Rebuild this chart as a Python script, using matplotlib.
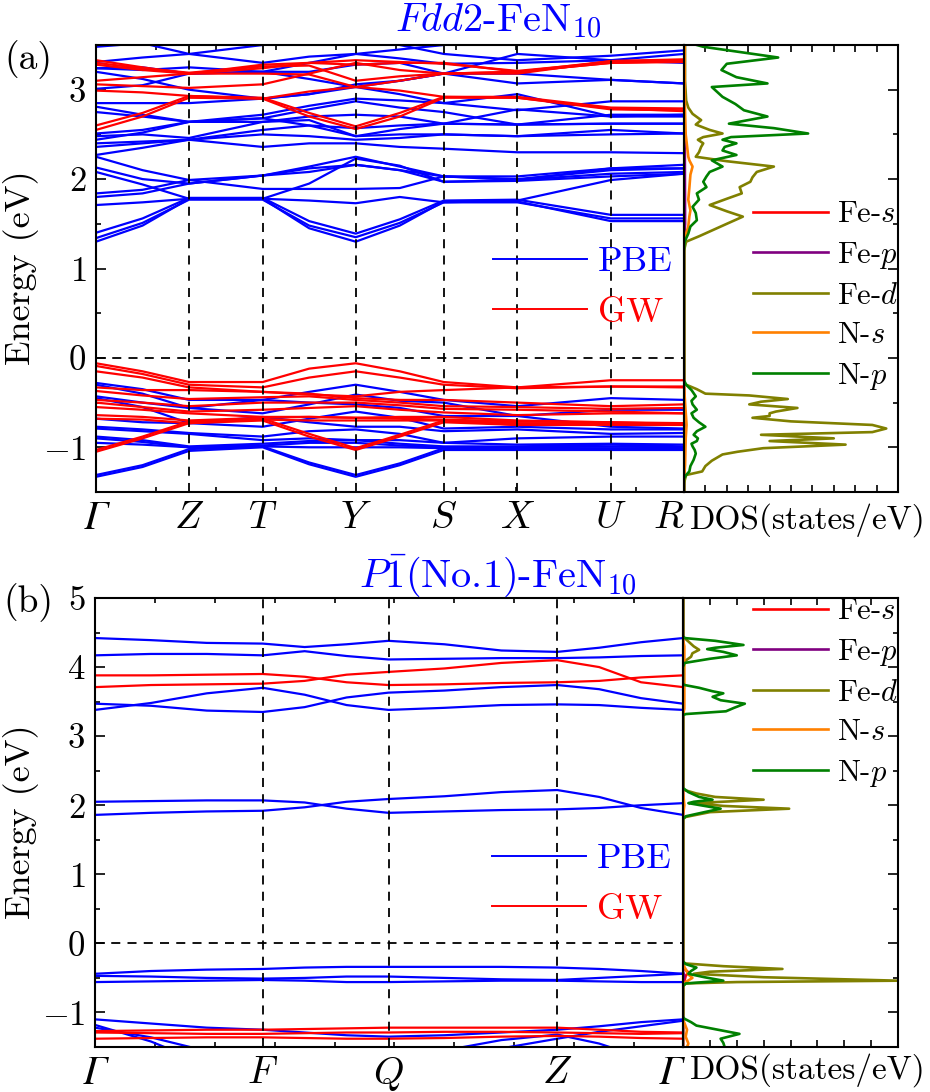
import matplotlib
matplotlib.use('Agg')
import matplotlib.pyplot as plt
from matplotlib.lines import Line2D
from matplotlib.ticker import MultipleLocator

plt.rcParams['font.family'] = 'cmr10'
plt.rcParams['mathtext.fontset'] = 'cm'
plt.rcParams['axes.formatter.use_mathtext'] = True

# ---------------- (a) Fdd2-FeN10 ----------------
kticks_a = [0.0, 0.93, 1.665, 2.595, 3.475, 4.21, 5.145, 5.875]
klabels_a = ['Γ', r'$Z$', r'$T$', r'$Y$', r'$S$', r'$X$', r'$U$', r'$R$']
# k samples: G, G-Z, Z, T, T-Y, Y, Y-S, S, X, U, R
kpts_a = [0.0, 0.465, 0.93, 1.665, 2.13, 2.595, 3.035, 3.475, 4.21, 5.145, 5.875]

pbe_cond_a = [
    [1.30, 1.48, 1.78, 1.78, 1.45, 1.30, 1.48, 1.75, 1.75, 1.53, 1.53],
    [1.34, 1.51, 1.77, 1.77, 1.48, 1.35, 1.51, 1.74, 1.74, 1.56, 1.56],
    [1.40, 1.56, 1.79, 1.79, 1.53, 1.39, 1.55, 1.76, 1.77, 1.60, 1.60],
    [1.71, 1.74, 1.78, 1.78, 1.76, 1.73, 1.80, 1.74, 1.76, 1.99, 2.06],
    [1.80, 1.84, 1.95, 2.04, 2.12, 2.16, 2.10, 1.97, 1.99, 2.06, 2.08],
    [1.84, 1.88, 1.99, 1.89, 1.89, 1.89, 1.90, 2.03, 1.99, 2.12, 2.16],
    [2.08, 1.94, 1.78, 1.78, 1.95, 2.23, 2.15, 1.97, 1.98, 2.03, 2.06],
    [2.13, 2.00, 1.95, 2.04, 2.14, 2.25, 2.14, 2.03, 2.03, 2.12, 2.12],
    [2.25, 2.10, 1.99, 2.04, 2.08, 2.16, 2.10, 2.03, 2.00, 2.10, 2.12],
    [2.27, 2.35, 2.44, 2.36, 2.40, 2.40, 2.36, 2.34, 2.30, 2.30, 2.29],
    [2.36, 2.40, 2.44, 2.55, 2.60, 2.48, 2.50, 2.50, 2.48, 2.55, 2.51],
    [2.40, 2.42, 2.44, 2.50, 2.48, 2.44, 2.46, 2.50, 2.48, 2.50, 2.51],
    [2.44, 2.52, 2.64, 2.68, 2.60, 2.57, 2.60, 2.62, 2.61, 2.62, 2.62],
    [2.48, 2.50, 2.46, 2.64, 2.70, 2.72, 2.70, 2.62, 2.61, 2.62, 2.62],
    [2.51, 2.55, 2.64, 2.64, 2.66, 2.48, 2.56, 2.62, 2.78, 2.70, 2.72],
    [2.81, 2.72, 2.64, 2.68, 2.78, 2.87, 2.80, 2.75, 2.61, 2.72, 2.72],
    [2.85, 2.85, 2.85, 2.90, 2.95, 3.03, 2.95, 2.85, 2.77, 2.87, 2.87],
    [2.75, 2.70, 2.64, 2.72, 2.82, 2.90, 2.88, 2.85, 2.95, 2.70, 2.70],
    [3.01, 3.05, 3.18, 3.20, 3.12, 3.03, 3.10, 3.18, 3.07, 3.11, 3.07],
    [3.20, 3.12, 3.00, 2.90, 2.95, 3.06, 3.10, 3.18, 3.18, 3.11, 3.07],
    [3.24, 3.25, 3.18, 3.20, 3.30, 3.40, 3.35, 3.29, 3.30, 3.33, 3.40],
    [3.31, 3.36, 3.40, 3.50, 3.60, 3.60, 3.50, 3.40, 3.33, 3.38, 3.44],
    [3.48, 3.52, 3.40, 3.30, 3.37, 3.40, 3.45, 3.50, 3.60, 3.60, 3.60],
    [3.24, 3.22, 3.25, 3.20, 3.20, 3.28, 3.30, 3.18, 3.40, 3.33, 3.30],
]
pbe_val_a = [
    [-0.28, -0.35, -0.47, -0.47, -0.38, -0.30, -0.38, -0.47, -0.54, -0.45, -0.47],
    [-0.30, -0.40, -0.56, -0.62, -0.52, -0.41, -0.48, -0.50, -0.65, -0.58, -0.58],
    [-0.43, -0.50, -0.56, -0.47, -0.50, -0.52, -0.56, -0.65, -0.65, -0.77, -0.79],
    [-0.45, -0.55, -0.73, -0.77, -0.68, -0.60, -0.67, -0.79, -0.77, -0.80, -0.80],
    [-0.68, -0.72, -0.73, -0.66, -0.72, -0.77, -0.77, -0.82, -0.80, -0.85, -0.84],
    [-0.77, -0.80, -0.84, -0.88, -0.82, -0.80, -0.85, -0.95, -0.90, -0.88, -0.88],
    [-0.79, -0.82, -0.85, -0.92, -0.90, -0.92, -0.92, -0.95, -0.97, -0.96, -0.97],
    [-0.88, -0.92, -0.99, -0.96, -0.93, -0.92, -0.96, -0.99, -0.99, -0.97, -0.99],
    [-0.90, -0.94, -1.00, -0.98, -0.95, -0.95, -0.98, -1.00, -1.00, -0.99, -1.00],
    [-0.95, -0.97, -1.00, -0.99, -1.00, -1.00, -1.00, -1.01, -1.01, -1.01, -1.01],
    [-1.31, -1.20, -1.02, -0.99, -1.17, -1.31, -1.18, -1.01, -1.02, -1.02, -1.02],
    [-1.33, -1.22, -1.04, -1.00, -1.19, -1.33, -1.20, -1.03, -1.03, -1.03, -1.03],
]
gw_cond_a = [
    [2.55, 2.70, 2.91, 2.90, 2.70, 2.56, 2.70, 2.91, 2.91, 2.78, 2.77],
    [2.60, 2.74, 2.93, 2.91, 2.74, 2.59, 2.74, 2.92, 2.92, 2.80, 2.79],
    [2.99, 2.97, 2.93, 2.90, 2.98, 3.03, 2.99, 2.92, 2.91, 2.79, 2.76],
    [3.06, 3.04, 3.02, 3.06, 3.18, 3.30, 3.22, 3.18, 3.20, 3.30, 3.32],
    [3.10, 3.14, 3.18, 3.18, 3.17, 3.03, 3.10, 3.18, 3.20, 3.30, 3.31],
    [3.28, 3.22, 3.18, 3.24, 3.30, 3.33, 3.31, 3.29, 3.21, 3.31, 3.33],
    [3.33, 3.25, 3.18, 3.28, 3.30, 3.28, 3.30, 3.30, 3.20, 3.32, 3.34],
    [3.30, 3.24, 3.19, 3.26, 3.27, 3.10, 3.15, 3.18, 3.18, 3.32, 3.33],
]
gw_val_a = [
    [-0.06, -0.15, -0.27, -0.27, -0.12, -0.06, -0.15, -0.27, -0.33, -0.25, -0.25],
    [-0.09, -0.18, -0.30, -0.33, -0.22, -0.15, -0.22, -0.30, -0.34, -0.32, -0.32],
    [-0.15, -0.22, -0.33, -0.38, -0.41, -0.43, -0.38, -0.36, -0.33, -0.32, -0.33],
    [-0.33, -0.36, -0.36, -0.38, -0.40, -0.45, -0.47, -0.47, -0.50, -0.54, -0.52],
    [-0.37, -0.42, -0.46, -0.44, -0.43, -0.47, -0.50, -0.54, -0.55, -0.57, -0.56],
    [-0.47, -0.50, -0.54, -0.50, -0.50, -0.50, -0.53, -0.57, -0.58, -0.60, -0.62],
    [-0.50, -0.55, -0.60, -0.58, -0.56, -0.54, -0.58, -0.61, -0.64, -0.62, -0.62],
    [-0.55, -0.58, -0.62, -0.66, -0.66, -0.67, -0.66, -0.66, -0.70, -0.72, -0.73],
    [-0.64, -0.66, -0.70, -0.67, -0.66, -0.67, -0.68, -0.69, -0.71, -0.72, -0.74],
    [-0.68, -0.69, -0.73, -0.69, -0.70, -0.70, -0.70, -0.70, -0.75, -0.74, -0.74],
    [-1.05, -0.90, -0.73, -0.70, -0.88, -1.03, -0.88, -0.72, -0.75, -0.75, -0.75],
    [-1.03, -0.88, -0.71, -0.68, -0.85, -1.01, -0.86, -0.70, -0.73, -0.73, -0.74],
]

# PDOS (a): (energy, states/eV)
fes_a = [(3.5, 0.01), (1.5, 0.02), (1.3, 0.0), (-1.5, 0.0)]
fep_a = [(3.5, 0.02), (1.5, 0.05), (1.3, 0.0), (-0.3, 0.0), (-0.8, 0.03), (-1.5, 0.0)]
fed_a = [(3.50, 0.05), (3.10, 0.05), (2.88, 0.10), (2.80, 0.20), (2.73, 0.40), (2.66, 0.80),
         (2.61, 0.55), (2.55, 1.20), (2.51, 1.80), (2.47, 0.90), (2.44, 0.65), (2.40, 0.90),
         (2.36, 0.80), (2.30, 0.70), (2.25, 0.55), (2.20, 2.00), (2.14, 4.20), (2.08, 3.40),
         (2.02, 3.20), (1.97, 3.10), (1.91, 2.60), (1.84, 2.70), (1.78, 2.00), (1.71, 1.20),
         (1.64, 2.00), (1.58, 2.75), (1.50, 2.00), (1.43, 1.35), (1.36, 0.70), (1.30, 0.10),
         (1.20, 0.0), (-0.29, 0.0), (-0.35, 0.60), (-0.40, 1.00), (-0.42, 3.05), (-0.46, 4.85),
         (-0.49, 3.60), (-0.52, 3.05), (-0.56, 5.30), (-0.60, 4.30), (-0.62, 4.00), (-0.65, 4.00),
         (-0.67, 3.20), (-0.71, 5.00), (-0.75, 8.80), (-0.79, 9.45), (-0.83, 8.80), (-0.86, 3.60),
         (-0.90, 7.00), (-0.93, 4.00), (-0.97, 7.55), (-1.01, 3.70), (-1.05, 2.50), (-1.08, 1.80),
         (-1.15, 1.30), (-1.21, 1.00), (-1.27, 0.85), (-1.31, 0.10), (-1.40, 0.0), (-1.50, 0.0)]
ns_a = [(3.5, 0.03), (2.9, 0.03), (2.5, 0.08), (2.25, 0.20), (2.21, 0.25), (2.14, 0.40),
        (2.05, 0.30), (1.90, 0.25), (1.77, 0.20), (1.65, 0.30), (1.58, 0.25), (1.47, 0.20),
        (1.35, 0.05), (1.25, 0.0), (-0.30, 0.0), (-0.5, 0.05), (-0.75, 0.12), (-0.9, 0.08),
        (-1.2, 0.05), (-1.35, 0.0), (-1.5, 0.0)]
np_a = [(3.50, 0.6), (3.48, 0.9), (3.36, 4.4), (3.29, 2.0), (3.22, 1.75), (3.14, 2.45),
        (3.07, 3.9), (3.03, 1.3), (2.92, 1.8), (2.84, 2.4), (2.77, 2.8), (2.70, 3.9),
        (2.66, 3.0), (2.62, 2.1), (2.57, 4.2), (2.51, 5.8), (2.47, 2.2), (2.44, 1.8),
        (2.40, 2.45), (2.36, 1.9), (2.32, 1.8), (2.27, 2.45), (2.21, 1.3), (2.14, 1.8),
        (2.08, 1.2), (2.03, 1.05), (1.97, 0.9), (1.91, 1.05), (1.84, 0.6), (1.77, 0.7),
        (1.69, 0.4), (1.62, 0.55), (1.54, 0.6), (1.47, 0.3), (1.39, 0.2), (1.30, 0.03),
        (1.20, 0.0), (-0.25, 0.0), (-0.30, 0.1), (-0.36, 0.35), (-0.43, 0.55), (-0.48, 0.35),
        (-0.52, 0.4), (-0.58, 0.6), (-0.62, 0.35), (-0.67, 0.45), (-0.72, 0.7), (-0.77, 1.0),
        (-0.82, 0.6), (-0.86, 0.45), (-0.90, 0.65), (-0.93, 0.6), (-0.96, 0.35), (-0.99, 0.4),
        (-1.03, 0.5), (-1.07, 0.55), (-1.14, 0.45), (-1.21, 0.3), (-1.27, 0.25), (-1.31, 0.1),
        (-1.35, 0.0), (-1.50, 0.0)]

# ---------------- (b) P-1 (No.1)-FeN10 ----------------
kticks_b = [0.0, 1.68, 2.94, 4.63, 5.89]
klabels_b = ['Γ', r'$F$', r'$Q$', r'$Z$', 'Γ']
kpts_b = [0.0, 0.56, 1.12, 1.68, 2.10, 2.52, 2.94, 3.50, 4.07, 4.63, 5.05, 5.47, 5.89]

pbe_b = [
    [4.42, 4.39, 4.35, 4.34, 4.29, 4.33, 4.38, 4.33, 4.24, 4.22, 4.28, 4.36, 4.42],
    [4.17, 4.19, 4.19, 4.17, 4.23, 4.16, 4.11, 4.12, 4.13, 4.13, 4.14, 4.16, 4.17],
    [3.38, 3.48, 3.62, 3.70, 3.60, 3.45, 3.38, 3.41, 3.45, 3.46, 3.45, 3.41, 3.38],
    [3.47, 3.44, 3.37, 3.35, 3.42, 3.56, 3.63, 3.66, 3.71, 3.74, 3.68, 3.55, 3.47],
    [2.05, 2.06, 2.07, 2.07, 2.04, 1.95, 1.89, 1.91, 1.93, 1.94, 1.96, 2.00, 2.03],
    [1.86, 1.89, 1.91, 1.92, 1.97, 2.05, 2.09, 2.13, 2.19, 2.22, 2.12, 1.96, 1.86],
    [-0.44, -0.40, -0.38, -0.37, -0.35, -0.34, -0.34, -0.34, -0.34, -0.35, -0.37, -0.40, -0.44],
    [-0.47, -0.48, -0.50, -0.51, -0.50, -0.48, -0.48, -0.50, -0.52, -0.53, -0.50, -0.47, -0.44],
    [-0.56, -0.55, -0.54, -0.53, -0.54, -0.56, -0.56, -0.55, -0.54, -0.54, -0.55, -0.56, -0.56],
    [-1.10, -1.16, -1.22, -1.25, -1.29, -1.33, -1.35, -1.33, -1.29, -1.25, -1.20, -1.14, -1.10],
    [-1.18, -1.42, -1.75, -1.85, -1.85, -1.80, -1.70, -1.60, -1.52, -1.38, -1.28, -1.20, -1.12],
    [-1.22, -1.36, -1.56, -1.70, -1.80, -1.80, -1.70, -1.55, -1.40, -1.32, -1.45, -1.65, -1.80],
]
gw_b = [
    [3.88, 3.88, 3.89, 3.90, 3.86, 3.78, 3.74, 3.75, 3.77, 3.78, 3.80, 3.85, 3.88],
    [3.71, 3.74, 3.75, 3.76, 3.80, 3.89, 3.93, 3.98, 4.06, 4.10, 4.00, 3.78, 3.71],
    [-1.27, -1.26, -1.25, -1.25, -1.24, -1.23, -1.22, -1.22, -1.22, -1.22, -1.25, -1.28, -1.29],
    [-1.29, -1.30, -1.31, -1.31, -1.30, -1.29, -1.29, -1.28, -1.28, -1.29, -1.30, -1.31, -1.30],
    [-1.38, -1.37, -1.36, -1.36, -1.37, -1.38, -1.38, -1.37, -1.35, -1.34, -1.35, -1.37, -1.38],
]

fes_b = [(5.0, 0.0), (-0.35, 0.0), (-0.42, 0.2), (-0.47, 0.1), (-0.55, 0.05), (-0.6, 0.0), (-1.5, 0.0)]
fep_b = [(5.0, 0.0), (-0.4, 0.0), (-0.48, 0.05), (-0.55, 0.0), (-1.5, 0.0)]
fed_b = [(5.0, 0.0), (4.45, 0.0), (4.42, 0.06), (4.30, 0.4), (4.25, 0.6), (4.20, 0.35),
         (4.15, 0.3), (4.08, 0.05), (4.05, 0.0), (2.25, 0.0), (2.22, 0.05), (2.17, 0.5),
         (2.12, 1.2), (2.08, 3.0), (2.03, 0.4), (1.99, 1.5), (1.95, 3.95), (1.90, 1.0),
         (1.83, 0.1), (1.80, 0.0), (-0.25, 0.0), (-0.29, 0.06), (-0.33, 1.5), (-0.37, 3.7),
         (-0.41, 1.0), (-0.44, 0.4), (-0.49, 3.0), (-0.54, 8.0), (-0.56, 2.0), (-0.58, 0.1),
         (-0.62, 0.0), (-1.5, 0.0)]
ns_b = [(5.0, 0.0), (4.4, 0.0), (4.3, 0.05), (3.4, 0.05), (3.3, 0.0), (2.2, 0.0), (2.0, 0.05),
        (1.85, 0.0), (-0.3, 0.0), (-0.45, 0.2), (-0.5, 0.35), (-0.56, 0.1), (-0.6, 0.0),
        (-1.1, 0.0), (-1.25, 0.15), (-1.35, 0.1), (-1.45, 0.2), (-1.5, 0.15)]
np_b = [(5.0, 0.0), (4.45, 0.0), (4.42, 0.06), (4.38, 1.2), (4.32, 2.25), (4.28, 1.2),
        (4.26, 0.9), (4.22, 1.5), (4.17, 2.0), (4.12, 1.0), (4.06, 0.06), (4.00, 0.0),
        (3.76, 0.0), (3.74, 0.06), (3.70, 0.6), (3.65, 1.1), (3.62, 1.5), (3.57, 1.1),
        (3.52, 1.4), (3.47, 2.3), (3.41, 1.9), (3.36, 1.6), (3.32, 0.1), (3.30, 0.0),
        (2.25, 0.0), (2.22, 0.1), (2.19, 0.2), (2.12, 0.6), (2.08, 1.1), (2.05, 0.4),
        (2.03, 0.2), (1.99, 0.8), (1.95, 1.4), (1.90, 0.8), (1.84, 0.1), (1.80, 0.0),
        (-0.26, 0.0), (-0.30, 0.1), (-0.35, 0.5), (-0.40, 0.3), (-0.44, 0.2), (-0.49, 0.8),
        (-0.54, 1.5), (-0.58, 0.1), (-0.62, 0.0), (-1.06, 0.0), (-1.09, 0.05), (-1.14, 0.3),
        (-1.19, 0.5), (-1.25, 1.3), (-1.31, 2.1), (-1.38, 1.4), (-1.44, 1.5), (-1.50, 1.55)]

dos_names = [r'Fe-$s$', r'Fe-$p$', r'Fe-$d$', r'N-$s$', r'N-$p$']
dos_colors = ['#ff0000', '#800080', '#808000', '#ff8000', '#008000']

BLUE = '#0000ff'
RED = '#ff0000'

W, H = 930, 1092
fig = plt.figure(figsize=(W / 100, H / 100), dpi=100)


def frac(x0, y0, x1, y1):
    return [x0 / W, 1 - y1 / H, (x1 - x0) / W, (y1 - y0) / H]


def style_common(ax):
    for sp in ax.spines.values():
        sp.set_linewidth(1.5)
    ax.tick_params(which='both', direction='in', width=1.2)
    ax.tick_params(which='major', length=7)
    ax.tick_params(which='minor', length=3.5)


def band_panel(ax, kpts, kticks, klabels, pbe, gw, ylim, leg_xy):
    for band in pbe:
        ax.plot(kpts, band, color=BLUE, lw=1.6)
    for band in gw:
        ax.plot(kpts, band, color=RED, lw=1.6)
    for k in kticks[1:-1]:
        ax.axvline(k, color='k', lw=1.3, ls=(0, (5, 4)))
    ax.axhline(0, color='k', lw=1.3, ls=(0, (5, 4)))
    ax.set_xlim(kticks[0], kticks[-1])
    ax.set_ylim(*ylim)
    style_common(ax)
    ax.set_xticks(kticks)
    ax.set_xticklabels(klabels, fontsize=28)
    for lab in ax.get_xticklabels():
        if lab.get_text() == 'Γ':
            lab.set_fontfamily('STIXGeneral')
            lab.set_fontstyle('italic')
            lab.set_fontsize(29)
    ax.get_xticklabels()[-1].set_ha('right')
    ax.tick_params(axis='x', which='major', length=0, pad=6)
    ax.xaxis.set_minor_locator(MultipleLocator(0.6))
    ax.tick_params(axis='x', which='minor', top=True, length=3.5)
    ax.yaxis.set_major_locator(MultipleLocator(1))
    ax.yaxis.set_minor_locator(MultipleLocator(0.5))
    ax.tick_params(axis='y', labelsize=25, pad=7)
    handles = [Line2D([], [], color=BLUE, lw=1.4), Line2D([], [], color=RED, lw=1.4)]
    ax.legend(handles, ['PBE', 'GW'], loc='center left', bbox_to_anchor=leg_xy,
              frameon=False, fontsize=26, labelcolor='linecolor', borderpad=0,
              borderaxespad=0, handlelength=2.6, handletextpad=0.3, labelspacing=0.5)


def dos_panel(ax, comps, xmax, ylim, leg_xy):
    for data, col, name in zip(comps, dos_colors, dos_names):
        e, d = zip(*data)
        ax.plot(d, e, color=col, lw=1.9, label=name)
    ax.set_xlim(0, xmax)
    ax.set_ylim(*ylim)
    style_common(ax)
    ax.xaxis.set_major_locator(MultipleLocator(1))
    ax.tick_params(axis='x', which='major', length=5, top=True, labelbottom=False)
    ax.yaxis.set_major_locator(MultipleLocator(1))
    ax.yaxis.set_minor_locator(MultipleLocator(0.5))
    ax.tick_params(axis='y', which='both', left=False, right=True, labelleft=False)
    ax.legend(loc='center left', bbox_to_anchor=leg_xy, frameon=False, fontsize=22,
              borderpad=0, borderaxespad=0, handlelength=2.45, handletextpad=0.3,
              labelspacing=0.38)


# (a)
ax_a = fig.add_axes(frac(96, 45, 684, 492))
band_panel(ax_a, kpts_a, kticks_a, klabels_a, pbe_cond_a + pbe_val_a, gw_cond_a + gw_val_a,
           (-1.5, 3.5), (0.675, 0.4575))
dos_a = fig.add_axes(frac(684, 45, 898, 492))
dos_panel(dos_a, [fes_a, fep_a, fed_a, ns_a, np_a], 10, (-1.5, 3.5), (0.322, 0.438))

# (b)
ax_b = fig.add_axes(frac(95, 598, 683, 1047))
band_panel(ax_b, kpts_b, kticks_b, klabels_b, pbe_b, gw_b, (-1.5, 5.0), (0.6757, 0.362))
dos_b = fig.add_axes(frac(683, 598, 898, 1047))
dos_panel(dos_b, [fes_b, fep_b, fed_b, ns_b, np_b], 8, (-1.5, 5.0), (0.326, 0.788))

# labels
fig.text(498 / W, 1 - 21 / H, r'$Fdd2$-FeN$_{10}$', color=BLUE, fontsize=29,
         ha='center', va='center')
fig.text(498 / W, 1 - 576 / H, r'$P\bar{1}$(No.1)-FeN$_{10}$', color=BLUE, fontsize=29,
         ha='center', va='center')
fig.text(28 / W, 1 - 60 / H, '(a)', fontsize=27, ha='center', va='center')
fig.text(28 / W, 1 - 603 / H, '(b)', fontsize=27, ha='center', va='center')
fig.text(21 / W, 1 - 268 / H, 'Energy (eV)', fontsize=26, rotation=90, ha='center', va='center')
fig.text(21 / W, 1 - 822 / H, 'Energy (eV)', fontsize=26, rotation=90, ha='center', va='center')
fig.text(808 / W, 1 - 520 / H, 'DOS(states/eV)', fontsize=24, ha='center', va='center')
fig.text(808 / W, 1 - 1070 / H, 'DOS(states/eV)', fontsize=24, ha='center', va='center')

fig.savefig('out.png', dpi=100)
